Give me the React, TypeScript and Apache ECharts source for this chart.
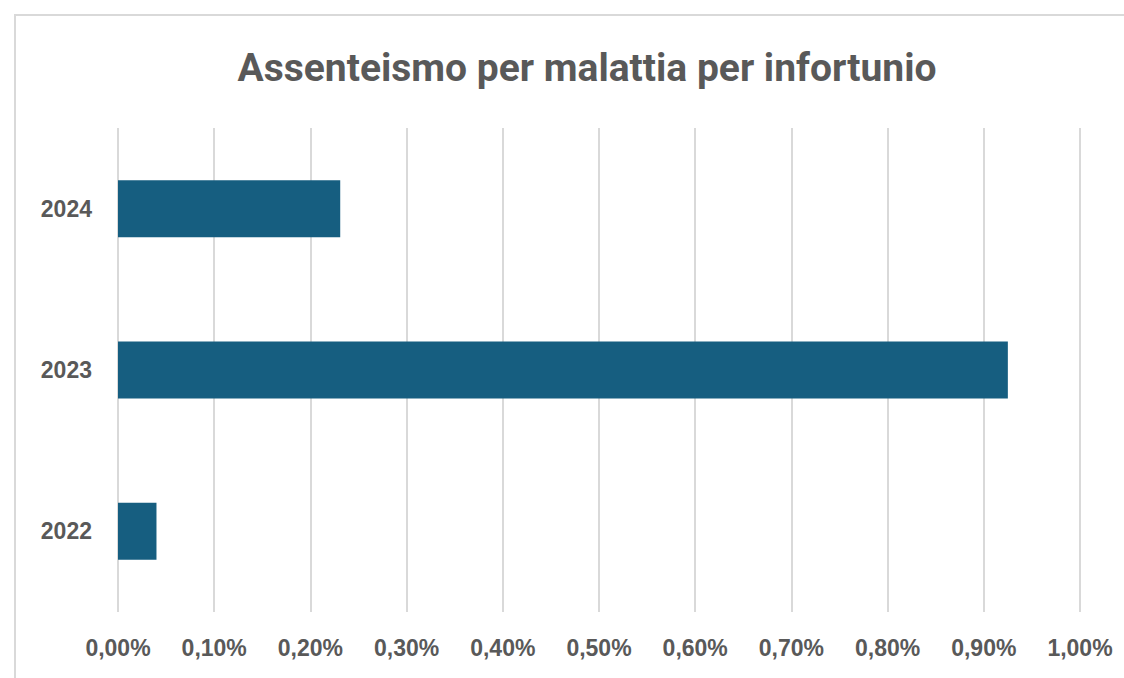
import React, { useEffect, useRef } from "react";
import * as echarts from "echarts";

const titleText = "Assenteismo per malattia per infortunio";
const categories = ["2022", "2023", "2024"];
const values = [0.04, 0.925, 0.231];
const axisMin = 0;
const axisMax = 1;
const axisStep = 0.1;

const fmtPct = (v: number) => v.toFixed(2).replace(".", ",") + "%";

export default function App() {
  const ref = useRef<HTMLDivElement>(null);
  useEffect(() => {
    if (!ref.current) return;
    const chart = echarts.init(ref.current, null, { renderer: "svg" });
    chart.setOption({
      animation: false,
      backgroundColor: "#ffffff",
      title: {
        text: titleText,
        left: 582,
        top: 43,
        textAlign: "center",
        textStyle: {
          fontFamily: "Roboto, sans-serif",
          fontWeight: "bold",
          fontSize: 39,
          color: "#595959",
        },
      },
      graphic: [
        {
          type: "rect",
          shape: { x: 15, y: 15, width: 1130, height: 700 },
          style: { fill: "none", stroke: "#d9d9d9", lineWidth: 2 },
          silent: true,
        },
      ],
      grid: { left: 118, right: 44, top: 128, bottom: 66, containLabel: false },
      xAxis: {
        type: "value",
        min: axisMin,
        max: axisMax,
        interval: axisStep,
        axisLine: { show: false },
        axisTick: { show: false },
        splitLine: { show: true, lineStyle: { color: "#d9d9d9", width: 2 } },
        axisLabel: {
          formatter: (v: number) => fmtPct(v),
          margin: 24,
          fontFamily: "'Liberation Sans', Arial, sans-serif",
          fontWeight: "bold",
          fontSize: 23,
          color: "#595959",
        },
      },
      yAxis: {
        type: "category",
        data: categories,
        axisLine: { show: false },
        axisTick: { show: false },
        splitLine: { show: false },
        axisLabel: {
          margin: 26,
          fontFamily: "'Liberation Sans', Arial, sans-serif",
          fontWeight: "bold",
          fontSize: 23,
          color: "#595959",
        },
      },
      series: [
        {
          type: "bar",
          data: values,
          barWidth: 57,
          itemStyle: { color: "#165e80" },
        },
      ],
    });
    return () => chart.dispose();
  }, []);
  return (
    <div
      ref={ref}
      style={{ position: "fixed", left: 0, top: 0, width: 1124, height: 678 }}
    />
  );
}
